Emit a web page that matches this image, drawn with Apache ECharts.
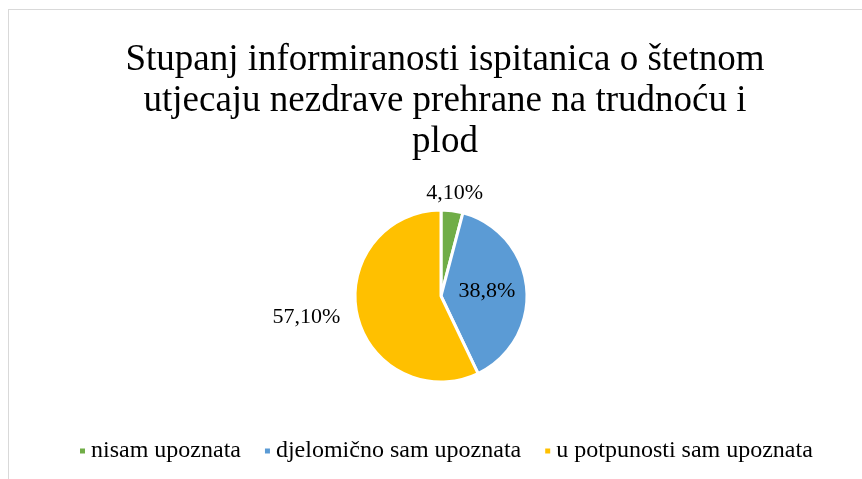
<!DOCTYPE html>
<html>
<head>
<meta charset="utf-8">
<script src="https://cdn.jsdelivr.net/npm/echarts@6/dist/echarts.min.js"></script>
<style>
  html, body { margin: 0; padding: 0; background: #fff; overflow: hidden; }
  #frame { position: absolute; left: 8px; top: 9px; width: 900px; height: 520px; border: 1px solid #d9d9d9; }
  #chart { position: absolute; left: 0; top: 0; width: 862px; height: 479px; }
</style>
</head>
<body>
<div id="frame"></div>
<div id="chart"></div>
<script>
const categories = ['nisam upoznata', 'djelomično sam upoznata', 'u potpunosti sam upoznata']
const values = [4.1, 38.8, 57.1]
const valueLabels = ['4,10%', '38,8%', '57,10%']
const colors = ['#70AD47', '#5B9BD5', '#FFC000']

const serif = 'Liberation Serif'

const chart = echarts.init(document.getElementById('chart'))
chart.setOption({
  animation: false,
  textStyle: { fontFamily: serif },
  title: {
    text: 'Stupanj informiranosti ispitanica o štetnom\nutjecaju nezdrave prehrane na trudnoću i\nplod',
    left: 440,          // with textAlign centre, this is the centre line of the title
    textAlign: 'center',
    top: 35,
    textStyle: {
      fontFamily: serif,
      fontSize: 37,
      lineHeight: 41,
      fontWeight: 'normal',
      color: '#000'
    }
  },
  legend: {
    top: 434,
    left: 73,
    icon: 'rect',
    itemWidth: 7,
    itemHeight: 7,
    itemGap: 22,
    textStyle: { fontFamily: serif, fontSize: 24, color: '#000' },
    data: categories
  },
  series: [
    {
      type: 'pie',
      center: [441, 296],
      radius: 86,
      startAngle: 90,
      clockwise: true,
      itemStyle: { borderColor: '#fff', borderWidth: 3 },
      label: {
        show: true,
        fontFamily: serif,
        fontSize: 22,
        color: '#000',
        formatter: (p) => valueLabels[p.dataIndex]
      },
      labelLine: { show: false, length: 12, length2: 0 },
      // small label is centred over its slice, as in the source
      labelLayout: (params) => params.dataIndex === 0 ? { align: 'center', dx: -4, dy: -6 } : {},
      data: categories.map((name, i) => ({
        name: name,
        value: values[i],
        itemStyle: { color: colors[i] },
        label: i === 1 ? { position: 'inside' } : { position: 'outside' }
      }))
    }
  ]
})
</script>
</body>
</html>
